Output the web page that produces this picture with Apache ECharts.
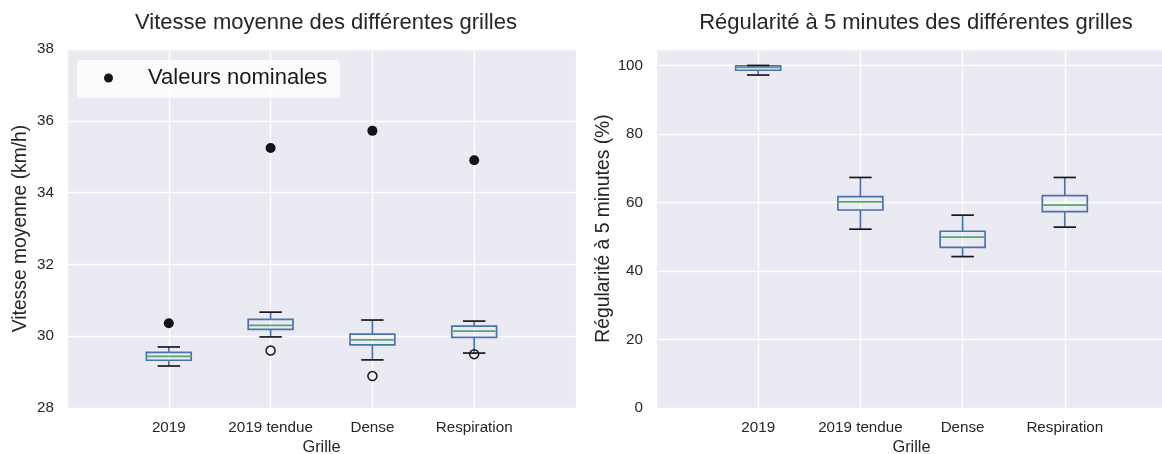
<!DOCTYPE html>
<html>
<head>
<meta charset="utf-8">
<script src="https://cdn.jsdelivr.net/npm/echarts@6/dist/echarts.min.js"></script>
<style>
  html, body { margin: 0; padding: 0; background: #ffffff; }
  #chart { width: 1162px; height: 454px; }
</style>
</head>
<body>
<div id="chart"></div>
<script>
// Grids compared in both panels
const categories = ['2019', '2019 tendue', 'Dense', 'Respiration'];

// Average speed (km/h): whisker low, Q1, median, Q3, whisker high
const speedLow    = [29.17, 29.98, 29.34, 29.53];
const speedQ1     = [29.33, 30.19, 29.76, 29.97];
const speedMedian = [29.44, 30.30, 29.90, 30.14];
const speedQ3     = [29.55, 30.47, 30.06, 30.28];
const speedHigh   = [29.70, 30.67, 30.45, 30.42];
// Outliers as [category, value]
const speedOutliers = [['2019 tendue', 29.60], ['Dense', 28.89], ['Respiration', 29.50]];
// Nominal speed per grid
const speedNominal = [30.36, 35.24, 35.72, 34.90];

// 5-minute regularity (%)
const regLow    = [97.2, 52.2, 44.2, 52.8];
const regQ1     = [98.6, 57.8, 46.9, 57.3];
const regMedian = [99.4, 60.2, 49.9, 59.2];
const regQ3     = [99.9, 61.7, 51.6, 62.0];
const regHigh   = [100.0, 67.3, 56.3, 67.3];

// Axis ticks
const speedTicks = { min: 28, max: 38, interval: 2 };
const regTicks = { min: 0, max: 104.8, interval: 20 };

const FONT = '"Liberation Sans", Arial, sans-serif';
const TEXT = '#262626';
const BOX_BLUE = '#4c72b0';
const MEDIAN_GREEN = '#55a868';

// Category axis padded with empty slots so groups sit at 1..4 of a 0..5 range
const axisCats = [''].concat(categories, ['']);
const idx = name => categories.indexOf(name) + 1;

function boxRows(lo, q1, med, q3, hi) {
  return categories.map((c, i) => [i + 1, lo[i], q1[i], med[i], q3[i], hi[i]]);
}

function renderBox(params, api) {
  const x = api.value(0);
  const pLo = api.coord([x, api.value(1)]);
  const pQ1 = api.coord([x, api.value(2)]);
  const pMed = api.coord([x, api.value(3)]);
  const pQ3 = api.coord([x, api.value(4)]);
  const pHi = api.coord([x, api.value(5)]);
  const band = api.size([1, 0])[0];
  const bw = band * 0.44;
  const cw = band * 0.22;
  const cx = pMed[0];
  const lw = 1.7;
  return {
    type: 'group',
    children: [
      { type: 'line', shape: { x1: cx, y1: pHi[1], x2: cx, y2: pQ3[1] }, style: { stroke: BOX_BLUE, lineWidth: lw } },
      { type: 'line', shape: { x1: cx, y1: pQ1[1], x2: cx, y2: pLo[1] }, style: { stroke: BOX_BLUE, lineWidth: lw } },
      { type: 'rect', shape: { x: cx - bw / 2, y: pQ3[1], width: bw, height: pQ1[1] - pQ3[1] }, style: { fill: 'none', stroke: BOX_BLUE, lineWidth: lw } },
      { type: 'line', shape: { x1: cx - bw / 2 + 1, y1: pMed[1], x2: cx + bw / 2 - 1, y2: pMed[1] }, style: { stroke: MEDIAN_GREEN, lineWidth: lw } },
      { type: 'line', shape: { x1: cx - cw / 2, y1: pHi[1], x2: cx + cw / 2, y2: pHi[1] }, style: { stroke: '#1a1a1a', lineWidth: lw } },
      { type: 'line', shape: { x1: cx - cw / 2, y1: pLo[1], x2: cx + cw / 2, y2: pLo[1] }, style: { stroke: '#1a1a1a', lineWidth: lw } }
    ]
  };
}

function xAxisFor(gridIndex) {
  return {
    type: 'category', gridIndex: gridIndex, data: axisCats, boundaryGap: false,
    name: 'Grille', nameLocation: 'middle', nameGap: 31,
    nameTextStyle: { color: TEXT, fontSize: 16.4, fontFamily: FONT },
    axisLine: { show: false }, axisTick: { show: false },
    axisLabel: { color: TEXT, fontSize: 15.2, fontFamily: FONT, margin: 12, interval: 0 },
    splitLine: { show: true, interval: 0, lineStyle: { color: '#ffffff', width: 1.3 } }
  };
}

function yAxisFor(gridIndex, ticks, name, gap) {
  return {
    type: 'value', gridIndex: gridIndex, min: ticks.min, max: ticks.max, interval: ticks.interval,
    name: name, nameLocation: 'middle', nameGap: gap,
    nameTextStyle: { color: TEXT, fontSize: 19.3, fontFamily: FONT },
    axisLine: { show: false }, axisTick: { show: false },
    axisLabel: { color: TEXT, fontSize: 15.2, fontFamily: FONT, margin: 13, showMaxLabel: ticks.max % ticks.interval === 0 },
    splitLine: { show: true, lineStyle: { color: '#ffffff', width: 1.3 } }
  };
}

const chart = echarts.init(document.getElementById('chart'), null, { renderer: 'canvas' });

chart.setOption({
  backgroundColor: '#ffffff',
  animation: false,
  textStyle: { fontFamily: FONT },
  title: [
    { text: 'Vitesse moyenne des différentes grilles', left: 321, top: 7, textAlign: 'center',
      textStyle: { color: TEXT, fontSize: 22, fontWeight: 'normal', fontFamily: FONT } },
    { text: 'Régularité à 5 minutes des différentes grilles', left: 911, top: 7, textAlign: 'center',
      textStyle: { color: TEXT, fontSize: 22, fontWeight: 'normal', fontFamily: FONT } }
  ],
  graphic: [
    { type: 'rect', left: 77, top: 60, shape: { width: 263, height: 38, r: 4 },
      style: { fill: 'rgba(255,255,255,0.8)' }, z: 10 }
  ],
  legend: {
    data: ['Valeurs nominales'],
    left: 104, top: 67, padding: 0,
    itemWidth: 9, itemHeight: 9,
    textStyle: { color: '#1a1a1a', fontSize: 22, fontFamily: FONT, padding: [0, 0, 0, 30] },
    z: 11
  },
  grid: [
    { left: 67, top: 49, width: 509, height: 359, show: true, backgroundColor: '#eaeaf2', borderWidth: 0, outerBoundsMode: 'none', containLabel: false },
    { left: 656, top: 49, width: 511, height: 359, show: true, backgroundColor: '#eaeaf2', borderWidth: 0, outerBoundsMode: 'none', containLabel: false }
  ],
  xAxis: [xAxisFor(0), xAxisFor(1)],
  yAxis: [
    yAxisFor(0, speedTicks, 'Vitesse moyenne (km/h)', 37),
    yAxisFor(1, regTicks, 'Régularité à 5 minutes (%)', 43)
  ],
  series: [
    {
      type: 'custom', name: 'Vitesse', xAxisIndex: 0, yAxisIndex: 0,
      renderItem: renderBox, encode: { x: 0, y: [1, 2, 3, 4, 5] },
      data: boxRows(speedLow, speedQ1, speedMedian, speedQ3, speedHigh), z: 3
    },
    {
      type: 'scatter', name: 'Aberrants', xAxisIndex: 0, yAxisIndex: 0,
      symbol: 'circle', symbolSize: 9,
      itemStyle: { color: 'rgba(0,0,0,0)', borderColor: '#1a1a1a', borderWidth: 1.5, opacity: 1 },
      data: speedOutliers.map(o => [idx(o[0]), o[1]]), z: 4
    },
    {
      type: 'scatter', name: 'Valeurs nominales', xAxisIndex: 0, yAxisIndex: 0,
      symbol: 'circle', symbolSize: 10,
      itemStyle: { color: '#141414', opacity: 1 },
      data: speedNominal.map((v, i) => [i + 1, v]), z: 5
    },
    {
      type: 'custom', name: 'Régularité', xAxisIndex: 1, yAxisIndex: 1,
      renderItem: renderBox, encode: { x: 0, y: [1, 2, 3, 4, 5] },
      data: boxRows(regLow, regQ1, regMedian, regQ3, regHigh), z: 3
    }
  ]
});
</script>
</body>
</html>
